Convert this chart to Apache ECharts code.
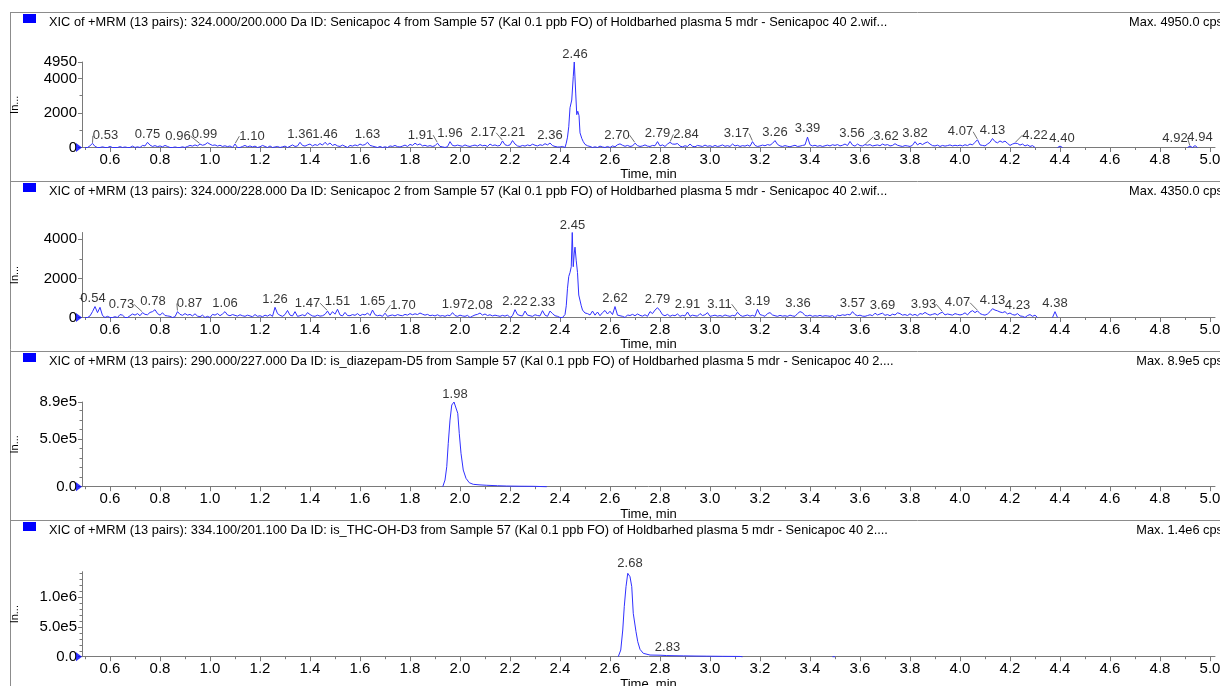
<!DOCTYPE html>
<html><head><meta charset="utf-8">
<script src="https://cdn.jsdelivr.net/npm/echarts@6/dist/echarts.min.js"></script>
<style>html,body{margin:0;padding:0;background:#fff}#c{width:1220px;height:686px}</style>
</head><body><div id="c"></div>
<script>
// ---------------- DATA ----------------
const titles = [
  "XIC of +MRM (13 pairs): 324.000/200.000 Da ID: Senicapoc 4 from Sample 57 (Kal 0.1 ppb FO) of Holdbarhed plasma 5 mdr - Senicapoc 40 2.wif...",
  "XIC of +MRM (13 pairs): 324.000/228.000 Da ID: Senicapoc 2 from Sample 57 (Kal 0.1 ppb FO) of Holdbarhed plasma 5 mdr - Senicapoc 40 2.wif...",
  "XIC of +MRM (13 pairs): 290.000/227.000 Da ID: is_diazepam-D5 from Sample 57 (Kal 0.1 ppb FO) of Holdbarhed plasma 5 mdr - Senicapoc 40 2....",
  "XIC of +MRM (13 pairs): 334.100/201.100 Da ID: is_THC-OH-D3 from Sample 57 (Kal 0.1 ppb FO) of Holdbarhed plasma 5 mdr - Senicapoc 40 2...."
];
const maxTexts = ["Max. 4950.0 cps", "Max. 4350.0 cps", "Max. 8.9e5 cps", "Max. 1.4e6 cps"];

const xTickLabels = [0.6,0.8,1.0,1.2,1.4,1.6,1.8,2.0,2.2,2.4,2.6,2.8,3.0,3.2,3.4,3.6,3.8,4.0,4.2,4.4,4.6,4.8,5.0];
const xMinorTicks = [0.5,0.7,0.9,1.1,1.3,1.5,1.7,1.9,2.1,2.3,2.5,2.7,2.9,3.1,3.3,3.5,3.7,3.9,4.1,4.3,4.5,4.7,4.9];
const xRange = [0.488, 5.02];

const yMax = [4950, 4350, 890000, 1430000];
const yTickLabels = [
  [0, 2000, 4000, 4950],
  [0, 2000, 4000],
  [0, 500000, 890000],
  [0, 500000, 1000000]
];
const yMinorTicks = [
  [1000, 3000],
  [1000, 3000],
  [100000, 200000, 300000, 400000, 600000, 700000, 800000],
  [100000, 200000, 300000, 400000, 600000, 700000, 800000, 900000, 1100000, 1200000, 1300000, 1400000]
];

// sampled noise traces: start 0.50 min, step 0.01 min
const sampleStart = 0.50, sampleStep = 0.01;
const p1Noise = [
  0,0,100,240,60,0,0,40,0,0,
  60,0,0,0,50,0,30,0,0,80,
  0,40,0,120,90,300,140,60,110,50,
  90,40,120,60,0,0,30,0,0,40,
  0,60,120,80,150,90,200,130,170,280,
  190,120,150,80,130,60,100,50,90,0,
  200,0,0,60,120,40,90,30,80,0,
  40,120,60,0,90,0,30,60,0,40,
  80,0,70,150,60,90,300,120,80,150,
  200,90,170,120,230,140,300,160,260,120,
  180,90,60,140,70,0,120,80,150,100,
  200,130,170,300,120,80,40,0,60,0,
  40,0,90,60,120,50,30,80,140,60,
  180,120,250,150,210,90,130,70,110,60,
  100,250,60,40,0,50,340,120,90,140,
  100,70,150,90,60,110,140,80,170,100,
  130,60,200,110,150,90,120,380,160,110,
  150,400,200,90,60,120,80,150,100,190,
  130,90,160,120,220,150,260,110,60,30,
  30,60,0,600,2300,2800,4950,2050,950,550,
  180,100,60,0,40,0,80,30,0,60,
  0,90,40,160,210,130,70,120,60,90,
  250,110,60,90,150,80,60,120,100,340,
  90,150,60,200,300,200,190,230,80,40,
  100,60,200,70,40,120,90,60,140,70,
  100,50,120,60,90,150,70,110,60,200,
  90,130,60,110,80,140,70,340,120,60,
  90,140,100,170,130,240,400,180,90,60,
  110,70,40,90,130,60,80,120,150,600,
  160,90,130,70,110,60,100,140,90,160,
  120,170,90,130,200,110,350,140,80,200,
  110,90,170,130,170,90,120,150,100,200,
  130,170,90,120,220,130,90,60,110,90,
  60,130,340,150,250,170,260,320,200,110,
  90,140,60,120,80,110,150,90,130,100,
  140,90,160,110,200,150,300,450,150,120,
  90,200,300,520,340,270,380,300,370,240,
  120,200,250,230,140,200,90,150,60,110,
  0
];
const p1PeakTimes  = [2.415,2.42,2.425,2.43,2.435,2.44,2.447,2.453,2.457,2.463,2.467,2.471,2.476,2.48,2.487,2.493,2.50,2.507];
const p1PeakValues = [40,0,250,600,1200,2300,2750,4100,4950,3100,1900,2100,1850,850,530,340,180,110];
const p1TailTimes  = [4.31, 4.39,4.40,4.41, 4.415, 4.91,4.92,4.93,4.94,4.95];
const p1TailValues = [null, 0,80,0, null, 0,80,0,110,0];

const p2Noise = [
  0,0,80,300,560,250,520,100,0,60,
  0,0,40,0,150,120,0,0,90,180,
  120,200,90,250,160,140,260,300,400,200,
  120,240,100,80,60,0,40,300,160,110,
  200,120,160,80,190,70,40,120,0,60,
  0,160,120,200,90,180,300,130,90,150,
  110,70,140,90,60,120,80,40,150,60,
  90,40,120,70,150,60,520,200,110,60,
  150,360,120,80,300,60,90,140,80,250,
  150,80,60,120,70,90,160,330,120,300,
  170,420,130,80,260,100,90,150,110,200,
  90,160,130,230,100,380,140,90,120,60,
  220,60,100,130,80,150,110,90,160,120,
  200,140,190,150,230,170,120,160,90,120,
  80,140,70,100,60,120,90,250,100,60,
  120,80,60,110,0,70,130,160,230,120,
  180,100,140,80,120,90,60,110,70,130,
  0,90,400,150,100,80,330,120,90,60,
  140,100,80,350,120,60,330,200,90,60,
  0,0,300,1900,2450,4350,3600,2300,1200,400,
  230,200,130,330,120,280,90,250,360,180,
  320,150,560,120,90,60,0,130,100,160,
  90,180,110,70,140,60,300,200,380,500,
  350,140,90,160,60,120,90,180,60,110,
  80,280,60,120,90,70,200,100,140,250,
  60,90,120,70,100,60,130,90,60,110,
  80,270,120,60,90,130,70,110,60,420,
  150,110,60,200,250,130,90,60,110,70,
  90,60,120,80,60,200,300,250,100,80,
  120,60,90,70,110,60,90,80,60,100,
  0,120,90,140,110,160,130,300,150,90,
  120,70,60,100,140,90,220,130,180,220,
  110,150,90,170,130,240,200,120,150,100,
  190,110,160,90,200,170,260,180,120,160,
  200,130,220,270,130,180,150,120,200,160,
  130,160,240,130,280,350,250,340,200,150,
  120,180,300,450,380,340,280,250,300,180,
  230,150,120,200,80,60,0,100,150,60,
  120,0
];
const p2PeakTimes  = [2.415,2.42,2.425,2.43,2.435,2.44,2.445,2.449,2.453,2.457,2.46,2.465,2.47,2.475,2.48,2.485,2.49,2.495,2.50];
const p2PeakValues = [0,150,600,1500,2100,2300,2600,4350,2600,3300,3600,2900,2300,1150,1250,600,380,300,230];
const p2TailTimes  = [4.32, 4.37,4.38,4.39];
const p2TailValues = [null, 0,300,0];

const p3Times  = [1.931,1.94,1.947,1.953,1.96,1.967,1.976,1.984,1.991,1.997,2.004,2.013,2.024,2.037,2.053,2.08,2.107,2.15,2.187,2.24,2.293,2.347];
const p3Values = [0,70000,210000,456000,700000,858000,890000,876000,771000,561000,351000,175000,88000,42000,25000,19000,15000,10000,7000,5000,4000,0];

const p4Times  = [2.633,2.643,2.651,2.657,2.664,2.671,2.675,2.68,2.687,2.693,2.697,2.704,2.711,2.72,2.733,2.76,2.8,2.827,2.86,2.893,2.94,2.987,3.05,3.12,3.13, 3.2, 3.49,3.495,3.50];
const p4Values = [0,112000,449000,841000,1178000,1403000,1430000,1346000,1178000,730000,701000,420000,252000,124000,57000,28000,25000,19000,16000,14000,11000,9000,6000,4000,0, null, 0,6000,0];

// peak annotations (retention time, intensity at label)
const p1LabelTimes   = [0.53,0.75,0.96,0.99,1.10,1.36,1.46,1.63,1.91,1.96,2.17,2.21,2.36,2.46,2.70,2.79,2.84,3.17,3.26,3.39,3.56,3.62,3.82,4.07,4.13,4.22,4.40,4.92,4.94];
const p1LabelHeights = [243,318,220,318,220,318,318,318,278,376,417,417,278,4950,278,376,318,376,434,666,376,185,376,475,567,278,87,87,127];
const p2LabelTimes   = [0.54,0.73,0.78,0.87,1.06,1.26,1.47,1.51,1.65,1.70,1.97,2.08,2.22,2.33,2.45,2.62,2.79,2.91,3.11,3.19,3.36,3.57,3.69,3.93,4.07,4.13,4.23,4.38];
const p2LabelHeights = [589,281,450,333,317,553,348,450,420,246,281,246,420,368,4350,589,553,297,297,450,333,333,246,297,368,486,215,333];
const p3LabelTimes   = [1.98];
const p3LabelHeights = [890000];
const p4LabelTimes   = [2.68, 2.83];
const p4LabelHeights = [1430000, 15000];

// ---------------- LAYOUT (pixels) ----------------
const FONT = "'Liberation Sans', Arial, sans-serif";
const sepY = [12.5, 181.5, 351.5, 520.5];
const gridTop = [62, 232.5, 402, 571.7];
const gridH = [85.5, 85, 84.7, 85];
const p1LabelShift = [13,0,-22,-3,17,0,0,0,-17,0,-19,0,0,0,-18,0,16,-16,0,0,2,21,0,-17,0,20,2,-15,5];
const p2LabelShift = [-2,-21,-2,12,0,0,-20,0,0,18,2,0,0,0,0,0,0,0,-18,0,-2,0,0,-19,-20,0,0,0];
const labelShifts = [p1LabelShift, p2LabelShift, [0], [0,0]];
const labelDist = [1, 1, 1, 2];

// ---------------- BUILD ----------------
function mergeTrace(noise, pt, pv, tt, tv) {
  const out = [];
  const lo = pt[0] - 1e-9, hi = pt[pt.length - 1] + 1e-9;
  noise.forEach((v, i) => {
    const t = Math.round((sampleStart + i * sampleStep) * 1000) / 1000;
    if (t < lo || t > hi) out.push([t, v]);
  });
  pt.forEach((t, i) => out.push([t, pv[i]]));
  out.sort((a, b) => a[0] - b[0]);
  tt.forEach((t, i) => out.push([t, tv[i]]));
  return out;
}
const traces = [
  mergeTrace(p1Noise, p1PeakTimes, p1PeakValues, p1TailTimes, p1TailValues),
  mergeTrace(p2Noise, p2PeakTimes, p2PeakValues, p2TailTimes, p2TailValues),
  p3Times.map((t, i) => [t, p3Values[i]]),
  p4Times.map((t, i) => [t, p4Values[i]])
];
const labelSets = [
  [p1LabelTimes, p1LabelHeights], [p2LabelTimes, p2LabelHeights],
  [p3LabelTimes, p3LabelHeights], [p4LabelTimes, p4LabelHeights]
];
const yFmt = [
  v => String(v), v => String(v),
  v => v === 0 ? '0.0' : v.toExponential(1).replace('+', ''),
  v => v === 0 ? '0.0' : v.toExponential(1).replace('+', '')
];

const AXIS = '#7a7a7a', TRACE = '#3030ff';
const grids = [], xAxes = [], yAxes = [], series = [], graphics = [];

for (let g = 0; g < 4; g++) {
  grids.push({ left: 82, right: 5, top: gridTop[g], height: gridH[g], containLabel: false, outerBoundsMode: 'none' });
  xAxes.push({
    type: 'value', gridIndex: g, min: xRange[0], max: xRange[1], position: 'bottom',
    axisLine: { show: true, onZero: false, lineStyle: { color: AXIS, width: 1 } },
    axisTick: { show: true, length: 4.5, customValues: xTickLabels, lineStyle: { color: AXIS } },
    axisLabel: { show: true, customValues: xTickLabels, formatter: v => v.toFixed(1), margin: 5,
                 fontSize: 15, color: '#000', fontFamily: FONT, hideOverlap: false },
    splitLine: { show: false },
    name: 'Time, min', nameLocation: 'middle', nameGap: 20.5,
    nameTextStyle: { fontSize: 13, color: '#000', fontFamily: FONT }
  });
  xAxes.push({
    type: 'value', gridIndex: g, min: xRange[0], max: xRange[1], position: 'bottom',
    axisLine: { show: false, onZero: false },
    axisTick: { show: true, length: 2.5, customValues: xMinorTicks, lineStyle: { color: AXIS } },
    axisLabel: { show: false }, splitLine: { show: false }
  });
  yAxes.push({
    type: 'value', gridIndex: g, min: 0, max: yMax[g], position: 'left',
    axisLine: { show: true, onZero: false, lineStyle: { color: AXIS, width: 1 } },
    axisTick: { show: true, length: 4, customValues: yTickLabels[g], lineStyle: { color: AXIS } },
    axisLabel: { show: true, customValues: yTickLabels[g], formatter: yFmt[g], margin: 5,
                 fontSize: 15, color: '#000', fontFamily: FONT, hideOverlap: false },
    splitLine: { show: false },
    name: 'In...', nameLocation: 'middle', nameGap: 62, nameRotate: 90,
    nameTextStyle: { fontSize: 11, color: '#000', fontFamily: FONT }
  });
  yAxes.push({
    type: 'value', gridIndex: g, min: 0, max: yMax[g], position: 'left',
    axisLine: { show: false, onZero: false },
    axisTick: { show: true, length: 2.5, customValues: yMinorTicks[g], lineStyle: { color: AXIS } },
    axisLabel: { show: false }, splitLine: { show: false }
  });

  series.push({
    type: 'line', xAxisIndex: 2 * g, yAxisIndex: 2 * g, data: traces[g],
    showSymbol: false, symbol: 'none', connectNulls: false, clip: false,
    lineStyle: { color: TRACE, width: 1 }, silent: true, z: 3, animation: false
  });
  series.push({
    type: 'scatter', xAxisIndex: 2 * g, yAxisIndex: 2 * g, data: [[xRange[0], 0]],
    symbol: 'triangle', symbolSize: [9, 6], symbolRotate: -90, symbolOffset: [-3, 0],
    itemStyle: { color: '#0000ff' }, clip: false, silent: true, z: 4, animation: false
  });
  const [lt, lh] = labelSets[g];
  const sh = labelShifts[g];
  series.push({
    type: 'scatter', xAxisIndex: 2 * g, yAxisIndex: 2 * g, silent: true, clip: false, z: 5,
    symbolSize: 1, itemStyle: { color: 'rgba(0,0,0,0)' }, animation: false,
    data: lt.map((t, i) => ({ value: [t, lh[i]], labelLine: { show: Math.abs(sh[i]) > 8 } })),
    label: { show: true, position: 'top', distance: labelDist[g], formatter: p => p.value[0].toFixed(2),
             fontSize: 13, color: '#000', fontFamily: FONT, lineHeight: 12 },
    labelLine: { show: false, length2: 0, lineStyle: { color: '#333', width: 0.7 } },
    labelLayout: p => ({ dx: sh[p.dataIndex] })
  });

  // panel frame, legend square, titles
  graphics.push({ type: 'line', shape: { x1: 10, y1: sepY[g], x2: 1220, y2: sepY[g] }, style: { stroke: '#8c8c8c', lineWidth: 1 }, silent: true });
  graphics.push({ type: 'rect', shape: { x: 23, y: sepY[g] + 1.5, width: 13, height: 9 }, style: { fill: '#0000ff' }, silent: true });
  graphics.push({ type: 'text', x: 49, y: sepY[g] + 10, style: { text: titles[g], fill: '#000', font: '12.8px ' + FONT, verticalAlign: 'middle', textAlign: 'left' }, silent: true });
  graphics.push({ type: 'text', x: 1223, y: sepY[g] + 10, style: { text: maxTexts[g], fill: '#000', font: '12.8px ' + FONT, verticalAlign: 'middle', textAlign: 'right' }, silent: true });
}
graphics.push({ type: 'line', shape: { x1: 10.5, y1: sepY[0], x2: 10.5, y2: 686 }, style: { stroke: '#8c8c8c', lineWidth: 1 }, silent: true });

const chart = echarts.init(document.getElementById('c'), null, { renderer: 'canvas' });
chart.setOption({
  animation: false,
  backgroundColor: '#fff',
  grid: grids, xAxis: xAxes, yAxis: yAxes, series: series,
  graphic: graphics
});
</script></body></html>
